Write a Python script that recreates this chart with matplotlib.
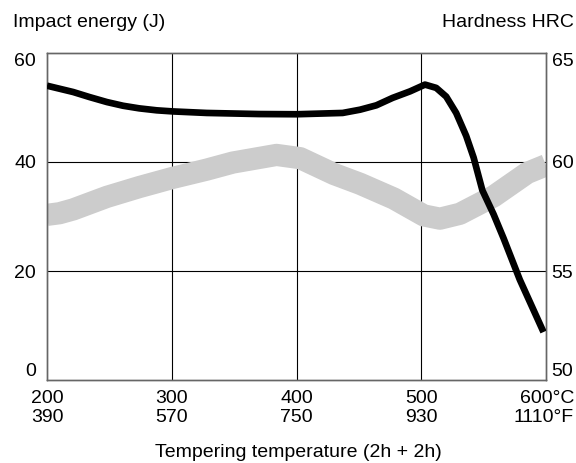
import matplotlib
matplotlib.use("Agg")
import matplotlib.pyplot as plt
from matplotlib.transforms import offset_copy

plt.rcParams['font.family'] = ['Liberation Sans', 'DejaVu Sans']

# impact energy (J), left axis - grey band
temp_imp = [200, 210, 221, 248, 274, 301, 328, 349, 384, 403, 430, 451, 478, 502, 515, 531, 558, 585, 600]
impact = [30.3, 30.6, 31.3, 33.6, 35.4, 37.1, 38.6, 39.9, 41.3, 40.7, 37.8, 36.0, 33.3, 30.2, 29.6, 30.5,
          33.7, 38.0, 39.4]

# hardness HRC, right axis - black line
temp_hrc = [200, 221, 234, 248, 261, 274, 288, 301, 328, 370, 400, 437, 451, 464, 477, 491, 503, 512,
            520, 528, 536, 542, 549, 558, 566, 579, 598]
hrc = [63.5, 63.21, 62.98, 62.75, 62.58, 62.46, 62.37, 62.32, 62.25, 62.2, 62.19, 62.25, 62.4, 62.6,
       62.94, 63.24, 63.55, 63.4, 63.0, 62.25, 61.2, 60.2, 58.7, 57.6, 56.5, 54.6, 52.2]

x_ticks = [200, 300, 400, 500]
x_labels = ["200\n390", "300\n570", "400\n750", "500\n930"]
left_ticks = [0, 20, 40, 60]
right_ticks = [50, 55, 60, 65]

fs = 14
fig = plt.figure(figsize=(5.76, 4.63), dpi=100)
ax = fig.add_axes([47/576, 1-380/463, 499/576, 327/463])
ax2 = ax.twinx()

ax.set_xlim(200, 600)
ax.set_ylim(0, 60)
ax2.set_ylim(50, 65)

# grid
for x in [300, 400, 500]:
    ax.axvline(x, color="black", lw=0.8, zorder=1)
for y in [20, 40]:
    ax.axhline(y, color="black", lw=0.8, zorder=1)

ax.plot(temp_imp, impact, color="#cccccc", lw=16, solid_capstyle="butt",
        solid_joinstyle="round", zorder=2)
ax2.plot(temp_hrc, hrc, color="black", lw=4.8, solid_capstyle="butt",
         solid_joinstyle="round", zorder=3)

ax.set_xticks(x_ticks)
ax.set_xticklabels(x_labels, fontsize=fs, linespacing=1.15)
ax.set_yticks(left_ticks)
ax.set_yticklabels([str(v) for v in left_ticks], fontsize=fs)
ax2.set_yticks(right_ticks)
ax2.set_yticklabels([str(v) for v in right_ticks], fontsize=fs)
ax.tick_params(axis="y", length=0, pad=8)
ax.tick_params(axis="x", length=0, pad=7)
ax2.tick_params(axis="y", length=0, pad=4)

# end labels sit inside the axis range
for a in (ax, ax2):
    labs = a.get_yticklabels()
    labs[0].set_va("bottom")
    labs[-1].set_va("top")

# last x label, right aligned to the figure edge
tr = offset_copy(ax.get_xaxis_transform(), fig=fig, x=28, y=-7*100/72, units="dots")
ax.text(600, 0, "600°C\n1110°F", transform=tr, ha="right", va="top",
        fontsize=fs, linespacing=1.15)

for a in (ax, ax2):
    for s in a.spines.values():
        s.set_color("#666666")
        s.set_linewidth(1)

fig.text(13/576, 1-27/463, "Impact energy (J)", fontsize=fs, ha="left", va="baseline")
fig.text(574/576, 1-27/463, "Hardness HRC", fontsize=fs, ha="right", va="baseline")
fig.text(298/576, 1-457/463, "Tempering temperature (2h + 2h)", fontsize=fs,
         ha="center", va="baseline")

fig.savefig("out.png", dpi=100)
